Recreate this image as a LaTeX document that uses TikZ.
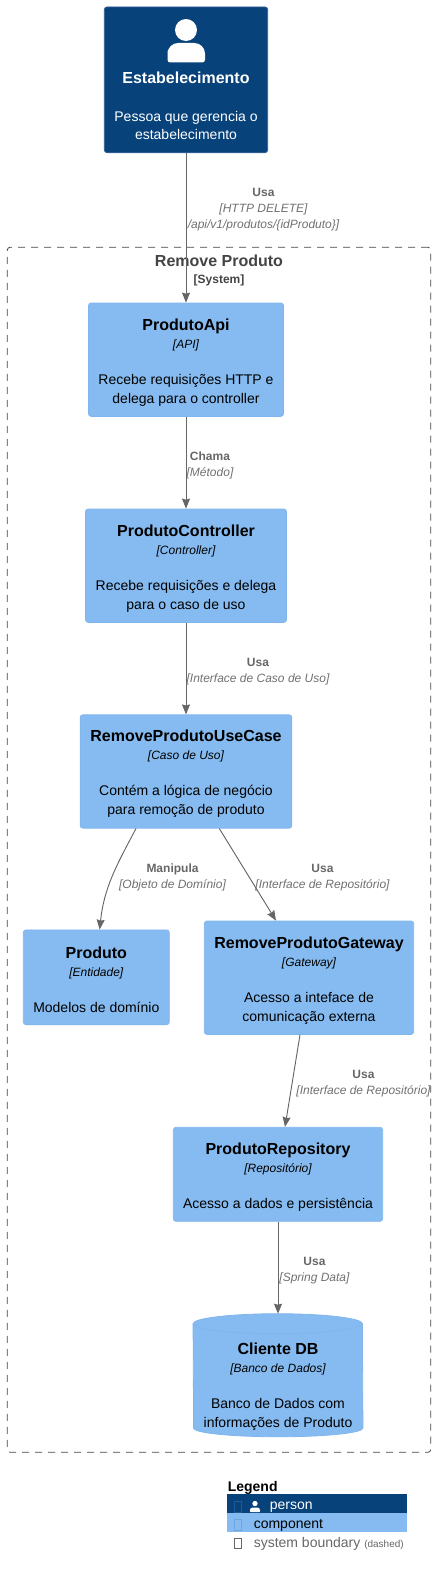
\documentclass[tikz,border=0pt]{standalone}
\usepackage{fontspec}
\setmainfont{Liberation Sans}
\usetikzlibrary{arrows.meta}
\usetikzlibrary{positioning}
\usetikzlibrary{backgrounds}

\definecolor{personblue}{HTML}{08427B}
\definecolor{compblue}{HTML}{85BBF0}
\definecolor{compline}{HTML}{80B6EC}
\definecolor{relgray}{HTML}{666666}
\definecolor{techgray}{HTML}{707070}
\definecolor{boundgray}{HTML}{444444}

\newcommand{\compbody}[3]{\rule{0pt}{12.5pt}{\fontsize{12}{14.25}\selectfont\bfseries #1}\\[-0.75pt]{\fontsize{9}{14.25}\selectfont\itshape [#2]}\\[12.75pt]#3}
\newcommand{\rellabel}[2]{{\bfseries #1}\\{\itshape\color{techgray}[#2]}}

\tikzset{
	compbox/.style={rectangle,rounded corners=2pt,fill=compblue,draw=compline,line width=0.6pt,align=center,inner sep=0pt,
		font=\fontsize{10.5}{14.25}\selectfont,text=black},
	rel/.style={->,>={Stealth[length=7.5pt,width=6pt,inset=0.8pt]},color=relgray,line width=0.7pt},
	rellab/.style={align=center,inner sep=0pt,text=relgray,font=\fontsize{9}{12}\selectfont},
	legrow/.style={anchor=west,inner sep=0pt,font=\fontsize{10.5}{12}\selectfont},
	legbar/.style={rectangle,minimum width=135pt,minimum height=14.25pt,inner sep=0pt}
}

\begin{document}
\begin{tikzpicture}[x=0.75pt,y=-0.75pt]
	\useasboundingbox (0,0) rectangle (437,1576);
	
	% limite do sistema
	\node[draw=boundgray,dashed,dash pattern=on 5.25pt off 4.5pt,rounded corners=2pt,line width=0.6pt,minimum width=317.5pt,minimum height=903.75pt,inner sep=0pt] (sistema) at (219,849.8) {};
	\node[text=boundgray,font=\fontsize{12}{14}\selectfont\bfseries,inner sep=0pt] (sistematit) at (219,261) {Remove Produto};
	\node[text=boundgray,font=\fontsize{9}{11}\selectfont\bfseries,inner sep=0pt] (sistemasub) at (219,280) {[System]};
	
	% pessoa
	\node[rectangle,rounded corners=2pt,fill=personblue,draw=personblue!85!white,line width=0.6pt,minimum width=122.5pt,minimum height=109.25pt,inner sep=0pt] (pessoa) at (186,79.8) {};
	\fill[white] (186,30) circle (8.25pt);
	\fill[white] (167.5,62.5) [rounded corners=2pt] -- (167.5,53) [rounded corners=8pt] -- (167.5,43) -- (205,43) [rounded corners=2pt] -- (205,62.5) -- cycle;
	\node[text=white,font=\fontsize{12}{14}\selectfont\bfseries,inner sep=0pt] (pessoatit) at (186,77.5) {Estabelecimento};
	\node[text=white,align=center,font=\fontsize{10.5}{14}\selectfont,inner sep=0pt] (pessoatxt) at (186,125.5) {Pessoa que gerencia o\\estabelecimento};
	
	% componentes
	\node[compbox,minimum width=146.25pt,minimum height=85pt] (api) at (186,359.7) {\compbody{ProdutoApi}{API}{Recebe requisições HTTP e\\delega para o controller}};
	\node[compbox,minimum width=150.75pt,minimum height=85pt] (controller) at (186,565.7) {\compbody{ProdutoController}{Controller}{Recebe requisições e delega\\para o caso de uso}};
	\node[compbox,minimum width=158.75pt,minimum height=85pt] (usecase) at (186,771.5) {\compbody{RemoveProdutoUseCase}{Caso de Uso}{Contém a lógica de negócio\\para remoção de produto}};
	\node[compbox,minimum width=109.5pt,minimum height=71pt] (produto) at (96.3,977.3) {\compbody{Produto}{Entidade}{Modelos de domínio}};
	\node[compbox,minimum width=157pt,minimum height=85pt] (gateway) at (309,977.7) {\compbody{RemoveProdutoGateway}{Gateway}{Acesso a inteface de\\comunicação externa}};
	\node[compbox,minimum width=157pt,minimum height=70.5pt] (repositorio) at (278,1174.3) {\compbody{ProdutoRepository}{Repositório}{Acesso a dados e persistência}};
	
	% banco de dados
	\node[rectangle,align=center,inner sep=0pt,minimum width=127pt,minimum height=91.9pt,font=\fontsize{10.5}{14.25}\selectfont] (banco) at (278,1375.25) {\rule{0pt}{25.5pt}\compbody{Cliente DB}{Banco de Dados}{Banco de Dados com\\informações de Produto}};
	\begin{scope}[on background layer]
		\filldraw[fill=compblue,draw=compline,line width=0.6pt] ([yshift=-7.5pt]banco.north west) arc[start angle=180,end angle=0,x radius=63.5pt,y radius=7.5pt] -- ([yshift=6.5pt]banco.south east) arc[start angle=0,end angle=-180,x radius=63.5pt,y radius=6.5pt] -- cycle;
		\draw[compline,line width=0.6pt] ([yshift=-7.5pt]banco.north west) arc[start angle=180,end angle=360,x radius=63.5pt,y radius=7.5pt];
	\end{scope}
	
	% relacoes
	\draw[rel] (pessoa.south) -- (api.north);
	\draw[rel] (api.south) -- (controller.north);
	\draw[rel] (controller.south) -- (usecase.north);
	\draw[rel] ([xshift=-37.5pt]usecase.south) to[out=-118,in=84] ([xshift=2.5pt]produto.north);
	\draw[rel] ([xshift=25pt]usecase.south) -- ([xshift=-24.75pt]gateway.north);
	\draw[rel] ([xshift=-6.75pt]gateway.south) -- ([xshift=5.25pt]repositorio.north);
	\draw[rel] (repositorio.south) -- (banco.north);
	
	\node[rellab] (lab1) at (263.5,210) {\rellabel{Usa}{HTTP DELETE}\\{\itshape\color{techgray}/api/v1/produtos/\{idProduto\}]}};
	\node[rellab] (lab2) at (210,465) {\rellabel{Chama}{Método}};
	\node[rellab] (lab3) at (258,671.5) {\rellabel{Usa}{Interface de Caso de Uso}};
	\node[rellab] (lab4) at (172.5,877.5) {\rellabel{Manipula}{Objeto de Domínio}};
	\node[rellab] (lab5) at (322.5,877.5) {\rellabel{Usa}{Interface de Repositório}};
	\node[rellab] (lab6) at (363.5,1084) {\rellabel{Usa}{Interface de Repositório}};
	\node[rellab] (lab7) at (314.5,1271) {\rellabel{Usa}{Spring Data}};
	
	% legenda
	\node[anchor=west,inner sep=0pt,font=\fontsize{10.5}{12}\selectfont\bfseries] (legtit) at (227.5,1488) {Legend};
	\node[legbar,fill=personblue] (legpessoa) at (317,1503.5) {};
	\node[legbar,fill=compblue] (legcomp) at (317,1522.5) {};
	\draw[draw=personblue!80!compblue,line width=0.5pt] (234,1501) rectangle (241.5,1512);
	\draw[draw=compline!85!personblue,line width=0.5pt] (234,1519) rectangle (241.5,1530);
	\draw[draw=relgray,line width=0.6pt] (234.5,1538) rectangle (241.5,1548);
	\fill[white] (255,1503.5) circle (2pt);
	\fill[white] (250,1512) [rounded corners=0.5pt] -- (250,1510) [rounded corners=2pt] -- (250,1507.5) -- (260,1507.5) [rounded corners=0.5pt] -- (260,1512) -- cycle;
	\node[legrow,text=white] (legpessoatxt) at (269.5,1507.5) {person};
	\node[legrow,text=black] (legcomptxt) at (253.5,1525) {component};
	\node[legrow,text=relgray] (legbordatxt) at (253.5,1544) {system boundary {\fontsize{7.5}{9}\selectfont (dashed)}};
\end{tikzpicture}
\end{document}
